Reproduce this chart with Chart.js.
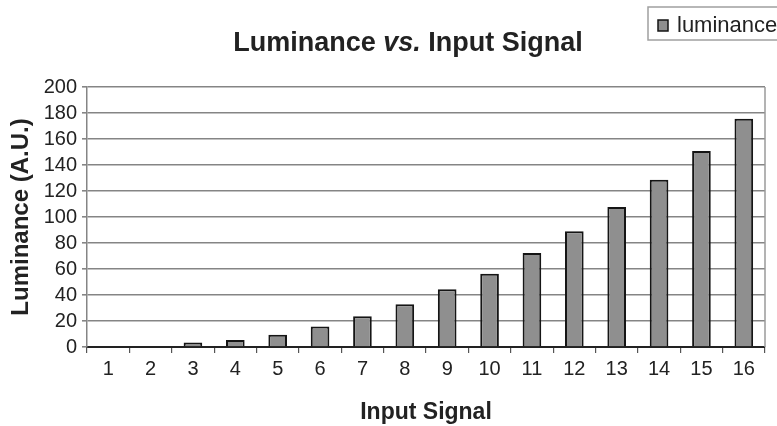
<!DOCTYPE html>
<html><head><meta charset="utf-8">
<script src="https://cdn.jsdelivr.net/npm/chart.js@4/dist/chart.umd.min.js"></script>
<style>html,body{margin:0;padding:0;background:#fff}#wrap{width:777px;height:426px;position:relative}</style>
</head><body><div id="wrap"><canvas id="c" width="777" height="426"></canvas></div>
<script>
const categories = ['1','2','3','4','5','6','7','8','9','10','11','12','13','14','15','16'];
const luminance = [0, 0, 3.4, 5.4, 9.5, 15.7, 23.7, 32.8, 44.4, 56.4, 72.3, 89, 107.6, 128.7, 150.7, 175.5];
const yTicks = [0, 20, 40, 60, 80, 100, 120, 140, 160, 180, 200];
const seriesName = 'luminance';
const titleParts = [['Luminance ', 'bold'], ['vs.', 'italic bold'], [' Input Signal', 'bold']];
const xTitle = 'Input Signal';
const yTitle = 'Luminance (A.U.)';

const FONT = '"Liberation Sans", Arial, Helvetica, sans-serif';
const BAR_FILL = '#8f8f8f';
const BAR_EDGE = '#151515';

const decor = {
  id: 'decor',
  afterDraw(chart) {
    const ctx = chart.ctx;
    const a = chart.chartArea;
    ctx.save();
    // right border of plot area
    ctx.strokeStyle = '#9a9a9a';
    ctx.lineWidth = 1.5;
    ctx.beginPath();
    ctx.moveTo(a.right, a.top);
    ctx.lineTo(a.right, a.bottom);
    ctx.stroke();
    // title with italic "vs."
    const size = 27;
    let total = 0;
    const widths = titleParts.map(([t, s]) => {
      ctx.font = s + ' ' + size + 'px ' + FONT;
      const w = ctx.measureText(t).width;
      total += w;
      return w;
    });
    let x = 408 - total / 2;
    ctx.fillStyle = '#222';
    ctx.textBaseline = 'alphabetic';
    ctx.textAlign = 'left';
    titleParts.forEach(([t, s], i) => {
      ctx.font = s + ' ' + size + 'px ' + FONT;
      ctx.fillText(t, x, 51);
      x += widths[i];
    });
    // legend box
    ctx.strokeStyle = '#a0a0a0';
    ctx.lineWidth = 1.5;
    ctx.fillStyle = '#fff';
    ctx.fillRect(648, 7, 140, 33);
    ctx.strokeRect(648, 7, 140, 33);
    ctx.fillStyle = BAR_FILL;
    ctx.fillRect(658, 20, 10, 11);
    ctx.strokeStyle = BAR_EDGE;
    ctx.lineWidth = 1.5;
    ctx.strokeRect(658, 20, 10, 11);
    ctx.fillStyle = '#222';
    ctx.font = '22px ' + FONT;
    ctx.fillText(chart.data.datasets[0].label, 677, 32);
    ctx.restore();
  }
};

new Chart(document.getElementById('c'), {
  type: 'bar',
  data: {
    labels: categories,
    datasets: [{
      label: seriesName,
      data: luminance,
      backgroundColor: BAR_FILL,
      borderColor: BAR_EDGE,
      borderWidth: 2,
      barPercentage: 0.44,
      categoryPercentage: 1
    }]
  },
  options: {
    responsive: false,
    animation: false,
    devicePixelRatio: 1,
    layout: { padding: { top: 87, right: 12, left: 0, bottom: 0 } },
    plugins: { legend: { display: false }, title: { display: false }, tooltip: { enabled: false } },
    scales: {
      x: {
        grid: { offset: true, drawOnChartArea: false, tickLength: 6, color: '#555', lineWidth: 1.2 },
        border: { color: '#222', width: 2 },
        ticks: { font: { family: FONT, size: 20 }, color: '#222', padding: 4, maxRotation: 0, autoSkip: false },
        title: { display: true, text: xTitle, font: { family: FONT, size: 23, weight: 'bold' }, color: '#222', padding: { top: 0, bottom: 0 } },
        afterFit(s) { s.height = 79; }
      },
      y: {
        min: 0, max: 200,
        afterBuildTicks(s) { s.ticks = yTicks.map(v => ({ value: v })); },
        grid: { color: '#858585', lineWidth: 1.6, tickLength: 5 },
        border: { color: '#858585', width: 1.5 },
        ticks: { font: { family: FONT, size: 20 }, color: '#222', padding: 5, autoSkip: false },
        title: { display: true, text: yTitle, font: { family: FONT, size: 24, weight: 'bold' }, color: '#222', padding: { top: 7, bottom: 0 } },
        afterFit(s) { s.width = 87; }
      }
    }
  },
  plugins: [decor]
});
</script></body></html>
